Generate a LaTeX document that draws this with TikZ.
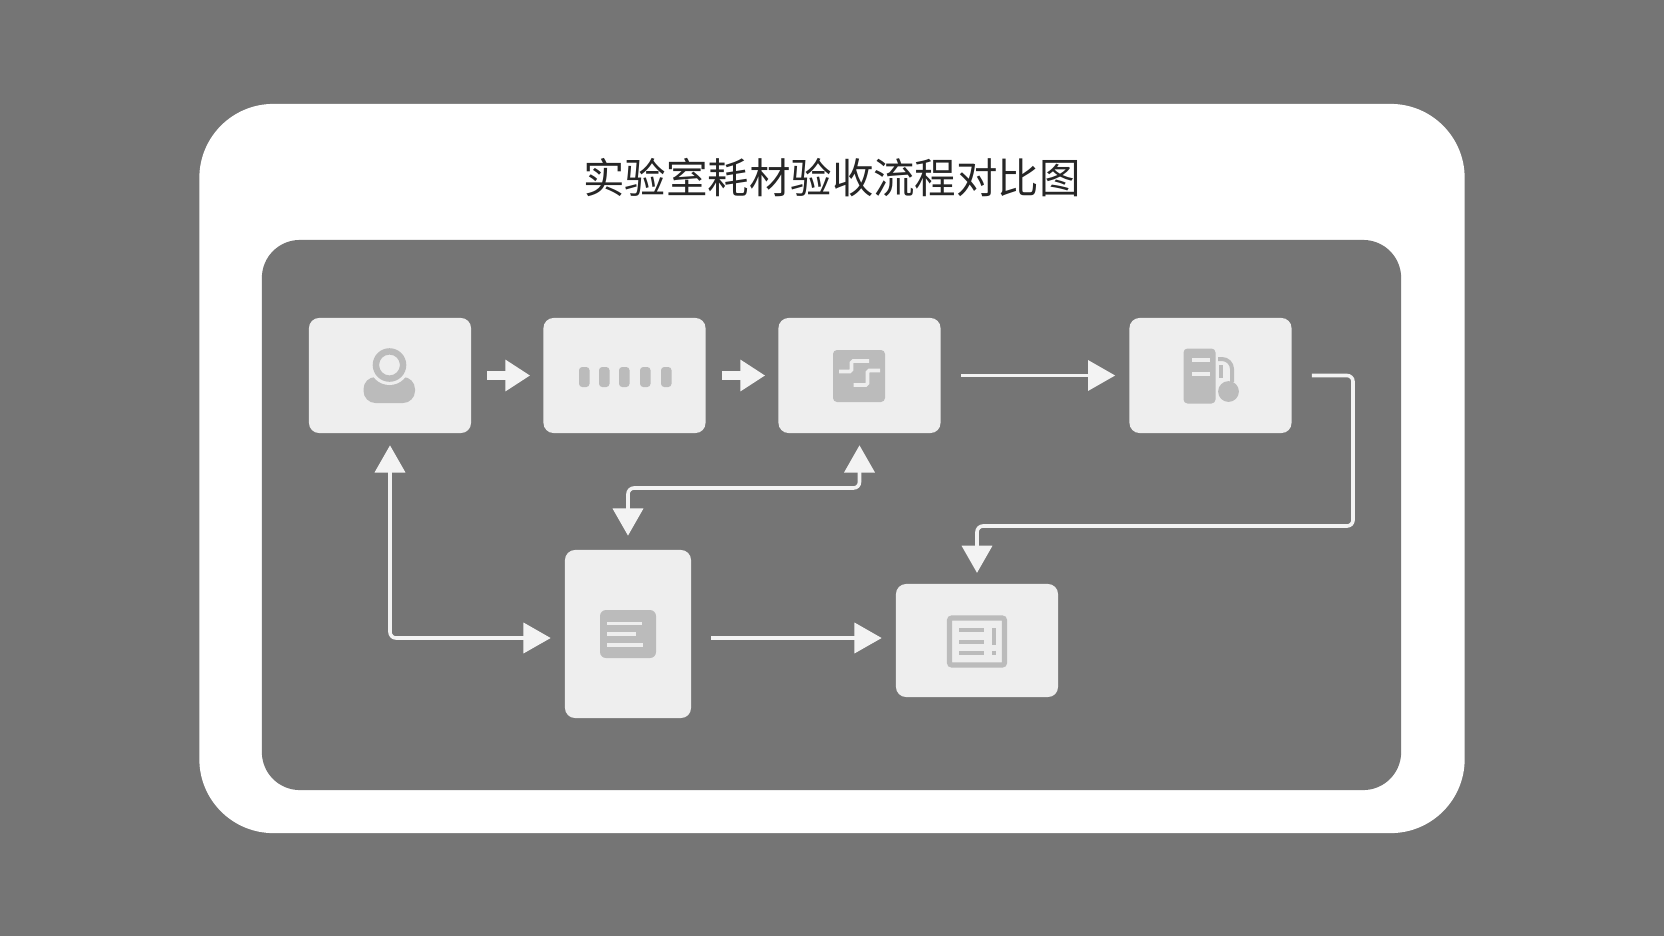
\documentclass[tikz,border=0pt]{standalone}
\usepackage{fontspec}
\newfontfamily\cjk{Noto Sans CJK SC}
\usepackage{tikz}
\usetikzlibrary{arrows.meta}
\definecolor{fond}{HTML}{757575}
\definecolor{poste}{HTML}{EEEEEE}
\definecolor{icone}{HTML}{BBBBBB}
\definecolor{trait}{HTML}{F3F3F3}
\tikzstyle{cadre}=[rectangle,fill=white,minimum width=31.625cm,minimum height=18.225cm,rounded corners=1.85cm,inner sep=0pt]
\tikzstyle{zone}=[rectangle,fill=fond,minimum width=28.475cm,minimum height=13.75cm,rounded corners=0.95cm,inner sep=0pt]
\tikzstyle{etape}=[rectangle,fill=poste,minimum width=4.05cm,minimum height=2.875cm,rounded corners=0.25cm,inner sep=0pt]
\tikzstyle{titre}=[text=black!85,font=\cjk\fontsize{29.5}{34}\selectfont,inner sep=0pt]
\tikzstyle{bloc}=[-{Triangle[width=0.75cm,length=0.62cm]},draw=trait,line width=0.225cm,shorten <=0.4cm,shorten >=0.325cm]
\tikzstyle{suite}=[-{Triangle[width=0.75cm,length=0.68cm]},draw=trait,line width=0.09cm,rounded corners=0.15cm,shorten <=0.5cm,shorten >=0.35cm]
\tikzstyle{double}=[{Triangle[width=0.75cm,length=0.68cm]}-{Triangle[width=0.75cm,length=0.68cm]},draw=trait,line width=0.09cm,rounded corners=0.15cm,shorten <=0.3cm,shorten >=0.35cm]
\tikzstyle{vide}=[draw=poste,line width=0.09cm]
\tikzstyle{dessin}=[draw=icone,line width=0.1cm]
\begin{document}
\begin{tikzpicture}[x=0.025cm,y=-0.025cm]
\fill[fond] (0,0) rectangle (1664,936);
\node[cadre] (cadre) at (832,468.5) {};
\node[zone] (zone) at (831.5,515) {};
\node[titre] (titre) at (832,178) {实验室耗材验收流程对比图};
\node[etape] (a) at (390,375.5) {};
\node[etape] (b) at (624.5,375.5) {};
\node[etape] (c) at (859.5,375.5) {};
\node[etape] (d) at (1210.5,375.5) {};
\node[etape,minimum width=3.15cm,minimum height=4.2cm] (e) at (628,634) {};
\node[etape,minimum height=2.825cm] (f) at (977,640.5) {};
\coordinate (coudec) at (740,488);
\coordinate (couded) at (1353,526);
\coordinate (niveau) at (800,638);
%icone a
\fill[icone,rounded corners=0.3cm] (363.5,377) rectangle (415,403);
\fill[poste] (389.5,365) circle (0.5cm);
\fill[icone,even odd rule] (389.5,365) circle (0.42cm) (389.5,365) circle (0.26cm);
%icone b
\fill[icone,rounded corners=0.08cm] (579,367) rectangle (589.5,387);
\fill[icone,rounded corners=0.08cm] (599,367) rectangle (609.5,387);
\fill[icone,rounded corners=0.08cm] (619,367) rectangle (629.5,387);
\fill[icone,rounded corners=0.08cm] (640,367) rectangle (650.5,387);
\fill[icone,rounded corners=0.08cm] (661,367) rectangle (671.5,387);
%icone c
\fill[icone,rounded corners=0.1cm] (833,350) rectangle (885,402);
\draw[vide,rounded corners=0.04cm] (839,371.5) -- (851.5,371.5) -- (851.5,361) -- (869,361);
\draw[vide,rounded corners=0.04cm] (853.5,385) -- (867.5,385) -- (867.5,370.5) -- (880,370.5);
%icone d
\fill[icone,rounded corners=0.1cm] (1183.5,348.5) rectangle (1215.5,403.5);
\draw[vide] (1192,360) -- (1210,360);
\draw[vide] (1192,374) -- (1210,374);
\draw[dessin,rounded corners=0.25cm] (1218,359) -- (1232,359) -- (1232,382);
\draw[dessin] (1220.5,365) -- (1220.5,378);
\fill[icone] (1228.5,391.5) circle (0.26cm);
%icone e
\fill[icone,rounded corners=0.15cm] (600,610) rectangle (656,658);
\draw[vide] (607,623.5) -- (642,623.5);
\draw[vide] (607,634) -- (636,634);
\draw[vide] (607,645) -- (643,645);
%icone f
\draw[dessin,line width=0.13cm,rounded corners=0.06cm] (949.5,618) rectangle (1004.5,665);
\draw[dessin] (959,630) -- (984,630);
\draw[dessin] (959,641.5) -- (984,641.5);
\draw[dessin] (959,653) -- (984,653);
\draw[dessin] (993.5,628) -- (993.5,645);
\draw[dessin] (993.5,650.5) -- (993.5,655);
%liens
\draw[bloc] (a) -- (b);
\draw[bloc] (b) -- (c);
\draw[suite] (c) -- (d);
\draw[suite,shorten >=0.27cm] (d.east) -| (couded) -| (f.north);
\draw[double] (a.south) |- (e.west |- niveau);
\draw[double] (c.south) |- (coudec) -| (e.north);
\draw[suite] (e.east |- niveau) -- (f.west |- niveau);
\end{tikzpicture}
\end{document}
